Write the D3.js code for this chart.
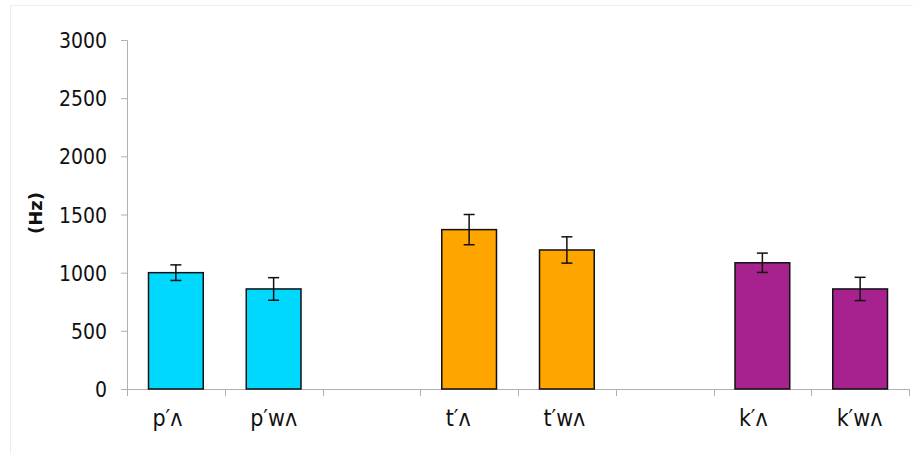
<!DOCTYPE html>
<html><head><meta charset="utf-8">
<script src="https://cdn.jsdelivr.net/npm/d3@7"></script>
<style>body{margin:0;background:#fff}svg{display:block}
.f{font-family:"DejaVu Sans Condensed","DejaVu Sans",sans-serif;font-stretch:condensed}</style>
</head><body>
<script>
const categories = ["p\u2032\u028C","p\u2032w\u028C","","t\u2032\u028C","t\u2032w\u028C","","k\u2032\u028C","k\u2032w\u028C"];
const values = [1000, 860, null, 1370, 1195, null, 1085, 860];
const errors = [67, 97, null, 130, 113, null, 83, 100];
const colors = ["#00D8FF","#00D8FF",null,"#FFA500","#FFA500",null,"#A8228F","#A8228F"];
const yTicks = [0,500,1000,1500,2000,2500,3000];
const yLabel = "(Hz)";

const W=913,H=454;
const svg=d3.select("body").append("svg").attr("width",W).attr("height",H);
svg.append("rect").attr("x",10.5).attr("y",5.5).attr("width",W).attr("height",H).attr("fill","none").attr("stroke","#eeeeee");

const x0=127,x1=909,yTop=40,yBot=389;
const x=d3.scaleBand().domain(d3.range(categories.length)).range([x0,x1]).paddingInner(0.44).paddingOuter(0.22);
const y=d3.scaleLinear().domain([0,3000]).range([yBot,yTop]);

// y axis
const ya=svg.append("g").attr("transform",`translate(${x0},0)`).call(d3.axisLeft(y).tickValues(yTicks).tickFormat(d3.format("d")).tickSize(6).tickPadding(14));
ya.attr("font-size",null).attr("font-family",null);
ya.select(".domain").attr("stroke","#b0b0b0");
ya.selectAll(".tick line").attr("stroke","#b0b0b0");
ya.selectAll("text").attr("class","f").style("font-size","21px").attr("fill","#111").attr("dy","0.36em");

// x axis line and ticks
const xs=d3.scaleLinear().domain([0,categories.length]).range([x0,x1]);
svg.append("line").attr("x1",x0).attr("x2",x1).attr("y1",yBot+0.5).attr("y2",yBot+0.5).attr("stroke","#b0b0b0");
svg.selectAll(".xt").data(d3.range(categories.length+1)).join("line")
  .attr("x1",d=>Math.round(xs(d))+0.5).attr("x2",d=>Math.round(xs(d))+0.5)
  .attr("y1",yBot).attr("y2",yBot+7).attr("stroke","#b0b0b0");

const idx=d3.range(categories.length).filter(i=>values[i]!=null);
svg.selectAll(".bar").data(idx).join("rect")
  .attr("x",i=>x(i)).attr("width",x.bandwidth())
  .attr("y",i=>y(values[i])).attr("height",i=>yBot-y(values[i]))
  .attr("fill",i=>colors[i]).attr("stroke","#111").attr("stroke-width",1.5);

const eb=svg.selectAll(".eb").data(idx).join("g").attr("stroke","#111").attr("stroke-width",1.5);
eb.append("line").attr("x1",i=>x(i)+x.bandwidth()/2).attr("x2",i=>x(i)+x.bandwidth()/2)
  .attr("y1",i=>y(values[i]+errors[i])).attr("y2",i=>y(values[i]-errors[i]));
eb.append("line").attr("x1",i=>x(i)+x.bandwidth()/2-5.5).attr("x2",i=>x(i)+x.bandwidth()/2+5.5)
  .attr("y1",i=>y(values[i]+errors[i])).attr("y2",i=>y(values[i]+errors[i]));
eb.append("line").attr("x1",i=>x(i)+x.bandwidth()/2-5.5).attr("x2",i=>x(i)+x.bandwidth()/2+5.5)
  .attr("y1",i=>y(values[i]-errors[i])).attr("y2",i=>y(values[i]-errors[i]));

// category labels: left-aligned within a common label box centred on each bar
const labels=svg.selectAll(".cl").data(d3.range(categories.length)).join("text")
  .attr("class","f").attr("y",426)
  .attr("text-anchor","start").style("font-size","23px").attr("fill","#111")
  .text(i=>categories[i]);
let maxW=0; labels.each(function(){maxW=Math.max(maxW,this.getComputedTextLength());});
labels.attr("x",i=>x(i)+x.bandwidth()/2-maxW/2);

svg.append("text").attr("transform","translate(42,213) rotate(-90)")
  .attr("text-anchor","middle").style("font-family","DejaVu Sans").style("font-weight","bold").style("font-size","18px").attr("fill","#111")
  .text(yLabel);
</script>
</body></html>
